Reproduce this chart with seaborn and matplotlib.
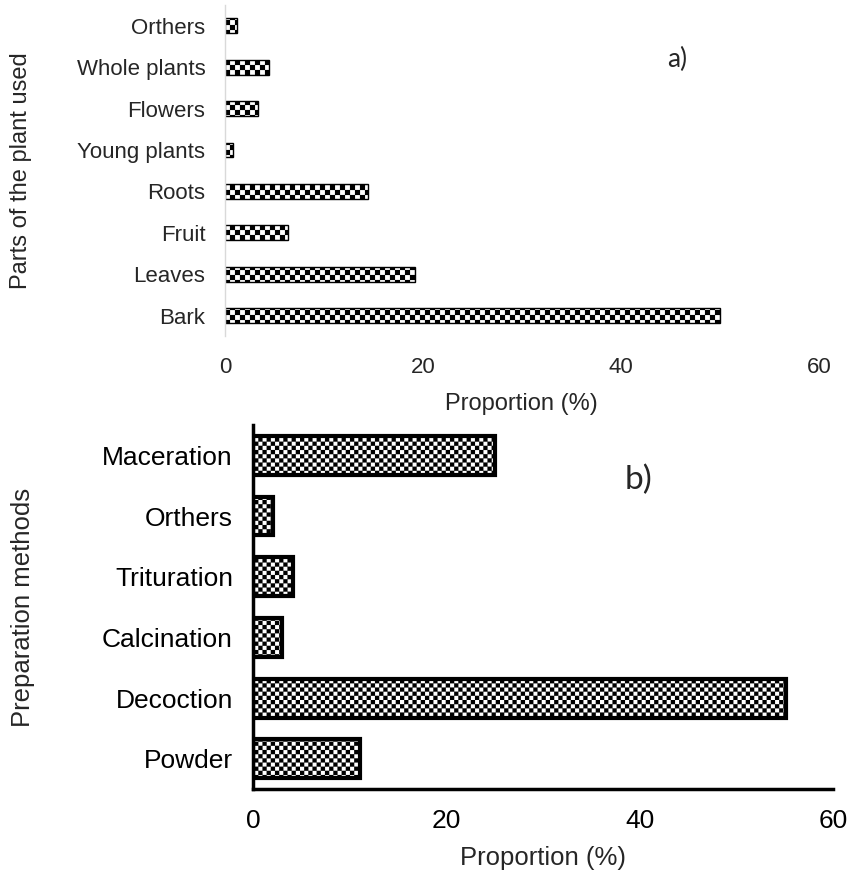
import warnings
import matplotlib
matplotlib.use("Agg")
import matplotlib.pyplot as plt
from matplotlib import hatch as mhatch
from matplotlib.path import Path
import seaborn as sns

warnings.filterwarnings("ignore")

# ---------- data ----------
parts = ["Orthers", "Whole plants", "Flowers", "Young plants",
         "Roots", "Fruit", "Leaves", "Bark"]
parts_pct = [1.2, 4.5, 3.3, 0.8, 14.5, 6.4, 19.2, 50.0]

methods = ["Maceration", "Orthers", "Trituration", "Calcination",
           "Decoction", "Powder"]
methods_pct = [25.0, 2.1, 4.1, 3.0, 55.1, 11.1]

xticks = [0, 20, 40, 60]


# checkerboard hatch ('c'), matplotlib has none built in
# cells per 1-inch tile = 4 * number of 'c' characters
class CheckerHatch(mhatch.HatchPatternBase):
    def __init__(self, hatch, density):
        self.n = 4 * hatch.count("c")
        self.num_vertices = (self.n * self.n // 2) * 5

    def set_vertices_and_codes(self, vertices, codes):
        s = 1.0 / self.n
        k = 0
        for i in range(self.n):
            for j in range(self.n):
                if (i + j) % 2:
                    continue
                x0, y0 = i * s, j * s
                vertices[k:k + 5] = [(x0, y0), (x0 + s, y0), (x0 + s, y0 + s),
                                     (x0, y0 + s), (x0, y0)]
                codes[k] = Path.MOVETO
                codes[k + 1:k + 4] = Path.LINETO
                codes[k + 4] = Path.CLOSEPOLY
                k += 5


mhatch._hatch_types.append(CheckerHatch)

sns.set_style("white")
plt.rcParams["font.family"] = ["Liberation Sans", "DejaVu Sans"]
plt.rcParams["hatch.linewidth"] = 0.1

fig = plt.figure(figsize=(8.52, 8.71), dpi=100)
ax1 = fig.add_axes([0.264, 0.614, 0.697, 0.380])
ax2 = fig.add_axes([0.297, 0.094, 0.681, 0.418])

# ---------- a) parts of the plant ----------
sns.barplot(x=parts_pct, y=parts, orient="h", ax=ax1, color="white",
            saturation=1, edgecolor="black", linewidth=1, width=0.36,
            hatch="ccccc")
ax1.set_xlim(0, 60)
ax1.set_xticks(xticks)
ax1.tick_params(axis="both", length=0, labelsize=16, colors="#262626")
ax1.tick_params(axis="x", pad=15)
ax1.tick_params(axis="y", pad=14)
for side in ["top", "right", "bottom"]:
    ax1.spines[side].set_visible(False)
ax1.spines["left"].set_color("#d9d9d9")
ax1.spines["left"].set_linewidth(1)
ax1.set_xlabel("Proportion (%)", fontsize=17, color="#262626")
ax1.set_ylabel("Parts of the plant used", fontsize=17, color="#262626")
ax1.xaxis.set_label_coords(0.5, -0.172)
ax1.yaxis.set_label_coords(-0.325, 0.5)

# ---------- b) preparation methods ----------
sns.barplot(x=methods_pct, y=methods, orient="h", ax=ax2, color="white",
            saturation=1, edgecolor="black", linewidth=3, width=0.64,
            hatch="cccccc")
ax2.set_xlim(0, 60)
ax2.set_xticks(xticks)
ax2.tick_params(axis="both", length=9.5, width=2.2, labelsize=19,
                colors="black", pad=5)
for side in ["top", "right"]:
    ax2.spines[side].set_visible(False)
for side in ["left", "bottom"]:
    ax2.spines[side].set_color("black")
    ax2.spines[side].set_linewidth(2.5)
ax2.set_xlabel("Proportion (%)", fontsize=18.5)
ax2.set_ylabel("Preparation methods", fontsize=18.5)
ax2.xaxis.set_label_coords(0.5, -0.155)
ax2.yaxis.set_label_coords(-0.375, 0.5)

fig.text(0.795, 0.932, "a)", fontsize=19, family="Lato", ha="center", va="center")
fig.text(0.749, 0.449, "b)", fontsize=24, family="Lato", ha="center", va="center")

fig.savefig("out.png", dpi=100)
